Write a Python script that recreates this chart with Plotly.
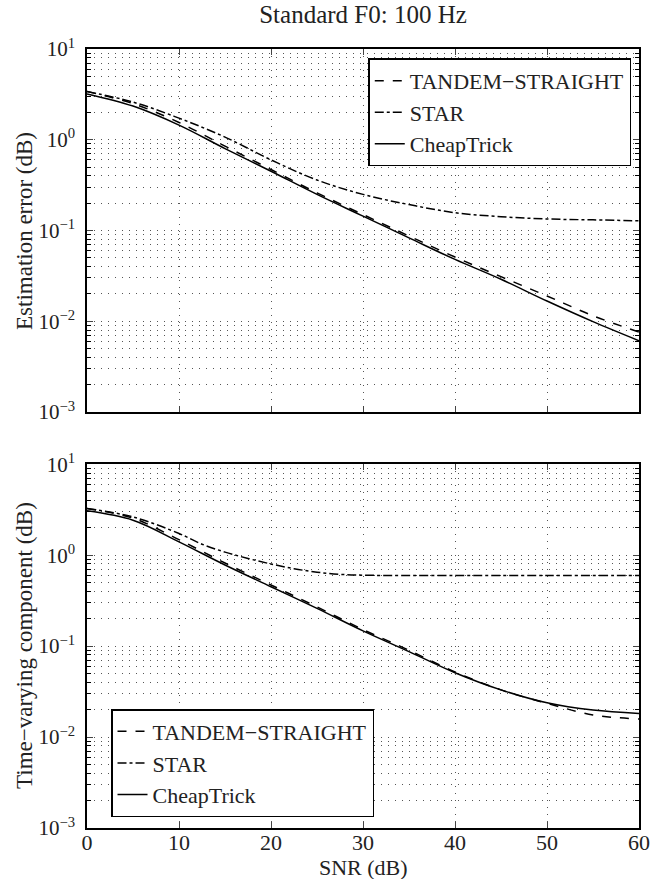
import plotly.graph_objects as go

snr = [0, 5, 10, 15, 20, 25, 30, 35, 40, 45, 50, 55, 60]

top_cheaptrick = [3.2, 2.35, 1.45, 0.80, 0.45, 0.25, 0.144, 0.083, 0.048, 0.029, 0.0167, 0.0099, 0.0061]
top_tandem = [3.4, 2.5, 1.55, 0.85, 0.47, 0.26, 0.15, 0.087, 0.051, 0.031, 0.019, 0.0115, 0.0076]
top_star = [3.4, 2.6, 1.73, 1.07, 0.6, 0.36, 0.25, 0.193, 0.157, 0.142, 0.134, 0.131, 0.128]

bot_cheaptrick = [3.07, 2.42, 1.40, 0.78, 0.45, 0.26, 0.147, 0.087, 0.051, 0.033, 0.0238, 0.0198, 0.0182]
bot_tandem = [3.26, 2.55, 1.48, 0.82, 0.47, 0.27, 0.152, 0.09, 0.052, 0.033, 0.0235, 0.0175, 0.0158]
bot_star_snr = [0, 5, 10, 12.5, 15, 17.5, 20, 22.5, 25, 27.5, 30, 40, 50, 60]
bot_star = [3.26, 2.63, 1.73, 1.32, 1.08, 0.92, 0.80, 0.71, 0.65, 0.615, 0.602, 0.597, 0.596, 0.596]

series_names = ["TANDEM\u2212STRAIGHT", "STAR", "CheapTrick"]
dashes = ["dash", "dashdot", "solid"]

x_ticks = [0, 10, 20, 30, 40, 50, 60]
y_tickvals = [1e-3, 1e-2, 1e-1, 1e0, 1e1]
y_ticktext = ["10<sup>\u22123</sup>", "10<sup>\u22122</sup>", "10<sup>\u22121</sup>", "10<sup>0</sup>", "10<sup>1</sup>"]
y_minorvals = [k * 10.0 ** d for d in range(-3, 1) for k in range(2, 10)]

title_text = "Standard F0: 100 Hz"
xlabel = "SNR (dB)"
ylabel_top = "Estimation error (dB)"
ylabel_bot = "Time\u2212varying component (dB)"

FONT = "Liberation Serif"
TXT = "#222"
GRID = "#555"
GDASH = "1px,6px"

W, H = 652, 879
ML, MR, MT, MB = 87, 13, 49, 51
PH = H - MT - MB

fig = go.Figure()

top_x = [snr, snr, snr]
bot_x = [snr, bot_star_snr, snr]
for name, dash, xs, ys in zip(series_names, dashes, top_x, [top_tandem, top_star, top_cheaptrick]):
    fig.add_trace(go.Scatter(x=xs, y=ys, mode="lines", name=name,
                             line=dict(color="black", width=1.5, dash=dash, shape="spline"),
                             xaxis="x", yaxis="y", legend="legend"))
for name, dash, xs, ys in zip(series_names, dashes, bot_x, [bot_tandem, bot_star, bot_cheaptrick]):
    fig.add_trace(go.Scatter(x=xs, y=ys, mode="lines", name=name,
                             line=dict(color="black", width=1.5, dash=dash, shape="spline"),
                             xaxis="x2", yaxis="y2", legend="legend2"))

common_x = dict(range=[0, 60], tickmode="array", tickvals=x_ticks, ticks="inside", ticklen=6,
                mirror="allticks", showline=True, linecolor="black", linewidth=1.5, showgrid=True,
                gridcolor=GRID, griddash=GDASH, gridwidth=1, zeroline=False,
                ticklabelstandoff=-6, automargin=False,
                tickfont=dict(family=FONT, size=22, color=TXT))
common_y = dict(type="log", range=[-3, 1], tickmode="array", tickvals=y_tickvals, ticktext=y_ticktext,
                ticks="inside", ticklen=6, mirror="allticks", showline=True, linecolor="black",
                linewidth=1.5, showgrid=True, gridcolor=GRID, griddash=GDASH, gridwidth=1,
                zeroline=False, ticklabelstandoff=6, automargin=False,
                tickfont=dict(family=FONT, size=21, color=TXT),
                minor=dict(tickmode="array", tickvals=y_minorvals, ticks="inside", ticklen=4,
                           showgrid=True, gridcolor=GRID, griddash=GDASH, gridwidth=1,
                           tickcolor="black"))

legend_style = dict(bgcolor="white", bordercolor="black", borderwidth=1.5,
                    font=dict(family=FONT, size=22, color=TXT), tracegroupgap=0)

def py(px):
    return (H - MB - px) / PH

label_font = dict(family=FONT, size=23, color=TXT)
annotations = [
    dict(text=xlabel, xref="paper", yref="paper", x=0.5, y=py(867), xanchor="center",
         yanchor="middle", showarrow=False, font=dict(family=FONT, size=22, color=TXT)),
    dict(text=ylabel_top, xref="paper", yref="paper", x=-(ML - 24) / (W - ML - MR), y=py(231),
         xanchor="center", yanchor="middle", textangle=-90, showarrow=False, font=label_font),
    dict(text=ylabel_bot, xref="paper", yref="paper", x=-(ML - 24) / (W - ML - MR), y=py(646),
         xanchor="center", yanchor="middle", textangle=-90, showarrow=False, font=label_font),
]

fig.update_layout(
    width=W, height=H,
    margin=dict(l=ML, r=MR, t=MT, b=MB, autoexpand=False),
    paper_bgcolor="white", plot_bgcolor="white",
    showlegend=True,
    title=dict(text=title_text, x=(87 + 639) / 2 / W, xanchor="center",
               y=1 - 14 / H, yanchor="middle",
               font=dict(family=FONT, size=25, color=TXT)),
    xaxis=dict(domain=[0, 1], anchor="y", showticklabels=False, **common_x),
    yaxis=dict(domain=[0.534, 1.0], anchor="x", **common_y),
    xaxis2=dict(domain=[0, 1], anchor="y2", **common_x),
    yaxis2=dict(domain=[0.0, 0.467], anchor="x2", **common_y),
    legend=dict(x=0.986, xanchor="right", y=0.988, yanchor="top", yref="paper", **legend_style),
    legend2=dict(x=0.0435, xanchor="left", y=0.0141, yanchor="bottom", yref="paper", **legend_style),
    annotations=annotations,
)

fig.write_html("out.html")
